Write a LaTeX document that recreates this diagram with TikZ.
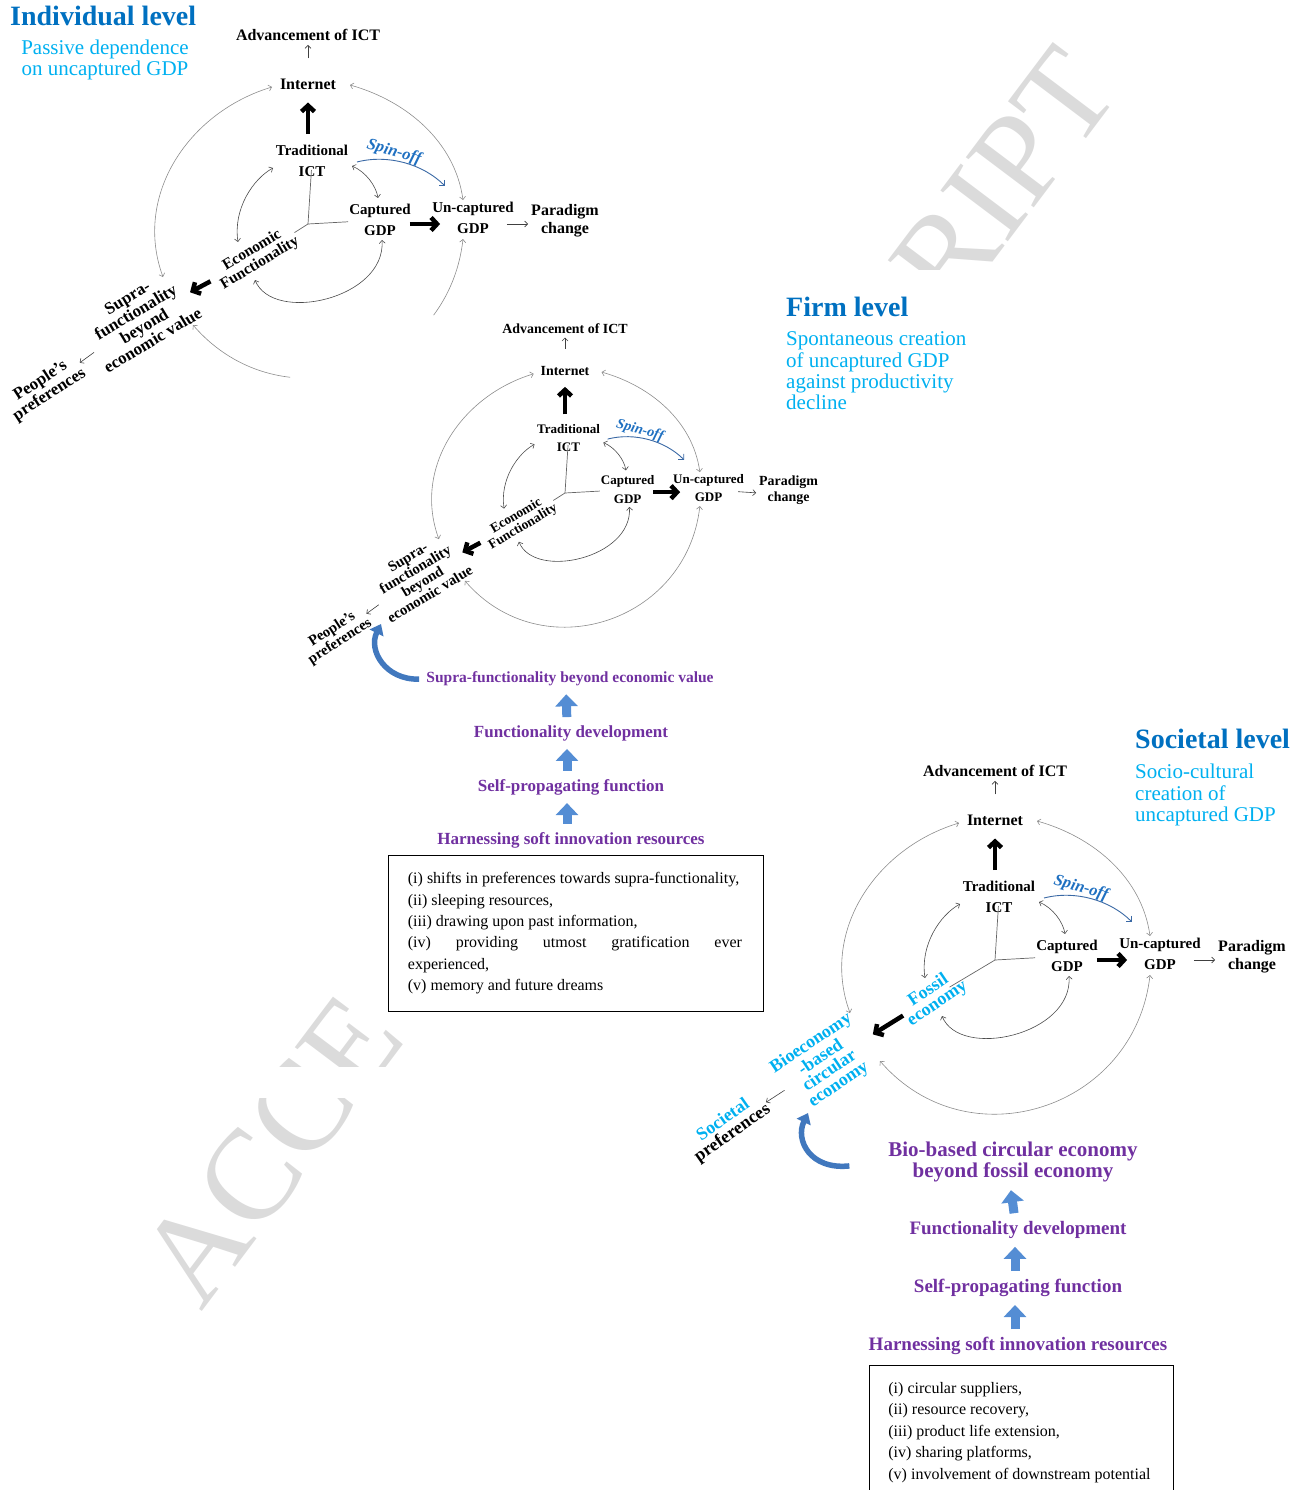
\documentclass[tikz,border=0pt]{standalone}
\usepackage{fontspec}
\setmainfont{Liberation Serif}
\usetikzlibrary{arrows.meta}
\definecolor{titleblue}{RGB}{0,112,192}
\definecolor{subcyan}{RGB}{0,176,240}
\definecolor{spinblue}{RGB}{31,112,193}
\definecolor{spinarrow}{RGB}{58,105,165}
\definecolor{stackpurple}{RGB}{112,48,160}
\definecolor{upblue}{RGB}{84,141,212}
\definecolor{curlblue}{RGB}{65,120,190}

\begin{document}
\begin{tikzpicture}[x=1pt, y=-1pt,
  lbl/.style={inner sep=1pt, align=center, font=\bfseries\fontsize{15}{21}\selectfont},
  lblbig/.style={inner sep=1pt, align=center, font=\bfseries\fontsize{16}{18}\selectfont},
  ecolbl/.style={inner sep=1pt, align=center, font=\bfseries\fontsize{15.5}{15}\selectfont},
  slant/.style={inner sep=1pt, align=center, font=\bfseries\fontsize{17}{16.5}\selectfont},
  cyanlbl/.style={inner sep=1pt, align=center, text=subcyan, font=\bfseries\fontsize{18}{16}\selectfont},
  spinlbl/.style={inner sep=1pt, text=spinblue, font=\bfseries\itshape\fontsize{16.5}{18}\selectfont, rotate=-16},
  thinarr/.style={draw=black!75, line width=0.6pt, -{Straight Barb[length=3pt,width=6pt]}},
  thickarr/.style={draw=black, line width=4.5pt, -{Straight Barb[length=6pt,width=13pt]}},
  outerarc/.style={draw=black!45, line width=0.6pt, {Straight Barb[length=3pt,width=6pt]}-{Straight Barb[length=3pt,width=6pt]}},
  innerarc/.style={draw=black!70, line width=0.6pt, {Straight Barb[length=3pt,width=6pt]}-{Straight Barb[length=3pt,width=6pt]}},
  spoke/.style={draw=black!60, line width=0.7pt},
  spinarr/.style={draw=spinarrow, line width=0.9pt, -{Straight Barb[length=4pt,width=8pt]}},
  title/.style={anchor=west, inner sep=0pt, text=titleblue, font=\bfseries\fontsize{28}{30}\selectfont},
  note/.style={inner sep=0pt, text=subcyan, font=\fontsize{21}{21.3}\selectfont},
  stack/.style={inner sep=1pt, align=center, text=stackpurple, font=\bfseries\fontsize{17}{21}\selectfont},
  uparr/.style={draw=upblue, line width=9pt, -{Triangle[length=12pt,width=22pt]}, shorten <=7pt, shorten >=7pt},
  curlarr/.style={draw=curlblue, line width=5.5pt, -{Triangle[length=10pt,width=15pt]}},
  listbox/.style={draw, fill=white, line width=0.8pt, align=flush left, anchor=north west, font=\fontsize{16}{21.4}\selectfont, inner ysep=17pt},
  wmark/.style={text=black!14, font=\fontsize{129}{129}\selectfont, rotate=53, inner sep=0pt}
]
\useasboundingbox (0,0) rectangle (1306,1490);

% watermark
\node[wmark, anchor=base west] (wmLeft) at (201,1313) {ACCE};
\node[wmark, anchor=base east] (wmRight) at (1122,91) {RIPT};
\fill[white] (225,1067) rectangle (440,1098);
\fill[white] (860,270) rectangle (1010,330);

% titles
\node[title] (iTitle) at (10,16) {Individual level};
\node[note, align=center] (iNote) at (105,60) {Passive dependence\\on uncaptured GDP};
\node[title] (fTitle) at (786,307) {Firm level};
\node[note, align=left, anchor=west] (fNote) at (786,371) {Spontaneous creation\\of uncaptured GDP\\against productivity\\decline};
\node[title] (sTitle) at (1135,739) {Societal level};
\node[note, align=left, anchor=west] (sNote) at (1135,795) {Socio-cultural\\creation of\\uncaptured GDP};

% individual level
\begin{scope}
\clip (0,0) -- (1306,0) -- (1306,315) -- (290,315) -- (290,440) -- (0,440) -- cycle;
\begin{scope}[shift={(308,224)}]
\node[lblbig] (iAdv) at (0,-189) {Advancement of ICT};
\node[lblbig] (iInt) at (0,-140) {Internet};
\node[lbl] (iTrad) at (4,-63) {Traditional\\ICT};
\node[spinlbl] (iSpin) at (86,-72) {Spin-off};
\node[lbl] (iCap) at (72,-4) {Captured\\GDP};
\node[lbl] (iUnc) at (165,-6) {Un-captured\\GDP};
\node[lblbig] (iPar) at (257,-3) {Paradigm\\change};
\node[ecolbl, rotate=31] (iEco) at (-52,33) {Economic\\Functionality};
\node[slant, rotate=31] (iSup) at (-168,95) {Supra-\\functionality\\beyond\\economic value};
\node[slant, rotate=33] (iPeo) at (-263,164) {People's\\preferences};
\coordinate (iHub) at (0,0);
\coordinate (iIntL) at (-36,-137);
\coordinate (iSupT) at (-145,53);
\coordinate (iIntR) at (42,-139);
\coordinate (iUncT) at (155,-24);
\coordinate (iSupB) at (-115,101);
\coordinate (iUncB) at (155,15);
\coordinate (iTradL) at (-35,-56);
\coordinate (iEcoT) at (-70,18);
\coordinate (iEcoB) at (-53,56);
\coordinate (iCapB) at (74,16);
\coordinate (iTradR) at (44,-58);
\coordinate (iCapT) at (70,-26);
\coordinate (iSpinA) at (49,-62);
\coordinate (iSpinB) at (137,-38);
\draw[spoke, shorten >=-8pt] (iHub) -- (iTrad);
\draw[spoke] (iHub) -- (iCap);
\draw[spoke] (iHub) -- (iEco);
\draw[thinarr, shorten <=19pt, shorten >=3pt] (iInt) -- (iAdv);
\draw[thickarr, shorten <=10pt, shorten >=12pt] (iInt.south |- iTrad.north) -- (iInt.south);
\draw[thickarr, shorten <=-2pt, shorten >=-9pt] ([yshift=-4pt]iCap.east) -- ([yshift=-6pt]iUnc.west);
\draw[thinarr, shorten <=-8pt, shorten >=2pt] ([yshift=-6pt]iUnc.east) -- ([yshift=-3pt]iPar.west);
\draw[thickarr, shorten <=6pt] (iEco) -- (iSup);
\draw[thinarr] (iSup) -- (iPeo);
\draw[spinarr] (iSpinA) .. controls (80,-70) and (115,-60) .. (iSpinB);
\draw[outerarc] (iSupT) .. controls (-175,-29) and (-119,-112) .. (iIntL);
\draw[outerarc] (iIntR) .. controls (99,-123) and (147,-82) .. (iUncT);
\draw[outerarc] (iSupB) .. controls (-27,203) and (140,149) .. (iUncB);
\draw[innerarc] (iTradL) .. controls (-55,-45) and (-75,-15) .. (iEcoT);
\draw[innerarc] (iEcoB) .. controls (-35,100) and (78,75) .. (iCapB);
\draw[innerarc] (iTradR) .. controls (58,-52) and (68,-38) .. (iCapT);
\end{scope}
\end{scope}

% firm level
\begin{scope}[shift={(565,493)}, scale=0.87, transform shape]
\node[lblbig] (fAdv) at (0,-189) {Advancement of ICT};
\node[lblbig] (fInt) at (0,-140) {Internet};
\node[lbl] (fTrad) at (4,-63) {Traditional\\ICT};
\node[spinlbl] (fSpin) at (86,-72) {Spin-off};
\node[lbl] (fCap) at (72,-4) {Captured\\GDP};
\node[lbl] (fUnc) at (165,-6) {Un-captured\\GDP};
\node[lblbig] (fPar) at (257,-3) {Paradigm\\change};
\node[ecolbl, rotate=31] (fEco) at (-52,33) {Economic\\Functionality};
\node[slant, rotate=31] (fSup) at (-168,95) {Supra-\\functionality\\beyond\\economic value};
\node[slant, rotate=33] (fPeo) at (-263,164) {People's\\preferences};
\coordinate (fHub) at (0,0);
\coordinate (fIntL) at (-36,-137);
\coordinate (fSupT) at (-145,53);
\coordinate (fIntR) at (42,-139);
\coordinate (fUncT) at (155,-24);
\coordinate (fSupB) at (-115,101);
\coordinate (fUncB) at (155,15);
\coordinate (fTradL) at (-35,-56);
\coordinate (fEcoT) at (-70,18);
\coordinate (fEcoB) at (-53,56);
\coordinate (fCapB) at (74,16);
\coordinate (fTradR) at (44,-58);
\coordinate (fCapT) at (70,-26);
\coordinate (fSpinA) at (49,-62);
\coordinate (fSpinB) at (137,-38);
\draw[spoke, shorten >=-8pt] (fHub) -- (fTrad);
\draw[spoke] (fHub) -- (fCap);
\draw[spoke] (fHub) -- (fEco);
\draw[thinarr, shorten <=17pt, shorten >=3pt] (fInt) -- (fAdv);
\draw[thickarr, shorten <=9pt, shorten >=10pt] (fInt.south |- fTrad.north) -- (fInt.south);
\draw[thickarr, shorten <=-2pt, shorten >=-8pt] ([yshift=-3pt]fCap.east) -- ([yshift=-5pt]fUnc.west);
\draw[thinarr, shorten <=-7pt, shorten >=2pt] ([yshift=-5pt]fUnc.east) -- ([yshift=-3pt]fPar.west);
\draw[thickarr, shorten <=5pt] (fEco) -- (fSup);
\draw[thinarr] (fSup) -- (fPeo);
\draw[spinarr] (fSpinA) .. controls (80,-70) and (115,-60) .. (fSpinB);
\draw[outerarc] (fSupT) .. controls (-175,-29) and (-119,-112) .. (fIntL);
\draw[outerarc] (fIntR) .. controls (99,-123) and (147,-82) .. (fUncT);
\draw[outerarc] (fSupB) .. controls (-27,203) and (140,149) .. (fUncB);
\draw[innerarc] (fTradL) .. controls (-55,-45) and (-75,-15) .. (fEcoT);
\draw[innerarc] (fEcoB) .. controls (-35,100) and (78,75) .. (fCapB);
\draw[innerarc] (fTradR) .. controls (58,-52) and (68,-38) .. (fCapT);
\end{scope}

% firm level stack
\node[stack, font=\bfseries\fontsize{15.5}{18}\selectfont] (fStack1) at (570,679) {Supra-functionality beyond economic value};
\node[stack] (fStack2) at (571,733) {Functionality development};
\node[stack] (fStack3) at (571,787) {Self-propagating function};
\node[stack] (fStack4) at (571,840) {Harnessing soft innovation resources};
\draw[uparr] ([xshift=-4pt]fStack4.north) -- ([xshift=-4pt]fStack3.south);
\draw[uparr] ([xshift=-4pt]fStack3.north) -- ([xshift=-4pt]fStack2.south);
\draw[uparr] ([xshift=-4pt]fStack2.north) -- ([xshift=-4pt]fStack1.south);
\coordinate (fCurlTip) at (381,624);
\draw[curlarr, shorten <=6pt] (fStack1.west) .. controls (385,680) and (368,650) .. (fCurlTip);
\node[listbox, text width=336pt, inner xsep=19.5pt] (fList) at (388,855) {(i) shifts in preferences towards supra-functionality,\\
(ii) sleeping resources,\\
(iii) drawing upon past information,\\
\leavevmode\hbox to 334pt{(iv)\hfill providing\hfill utmost\hfill gratification\hfill ever}\\
experienced,\\
(v) memory and future dreams};

% societal level
\begin{scope}[shift={(995,960)}]
\node[lblbig] (sAdv) at (0,-189) {Advancement of ICT};
\node[lblbig] (sInt) at (0,-140) {Internet};
\node[lbl] (sTrad) at (4,-63) {Traditional\\ICT};
\node[spinlbl] (sSpin) at (86,-72) {Spin-off};
\node[lbl] (sCap) at (72,-4) {Captured\\GDP};
\node[lbl] (sUnc) at (165,-6) {Un-captured\\GDP};
\node[lblbig] (sPar) at (257,-3) {Paradigm\\change};
\node[cyanlbl, rotate=34] (sFos) at (-62,37) {Fossil\\economy};
\node[cyanlbl, rotate=34] (sBio) at (-170,104) {Bioeconomy\\-based\\circular\\economy};
\node[slant, font=\bfseries\fontsize{18}{16}\selectfont, rotate=35] (sSoc) at (-267,167) {\textcolor{subcyan}{Societal}\\preferences};
\coordinate (sHub) at (0,0);
\coordinate (sIntL) at (-36,-137);
\coordinate (sBioT) at (-145,53);
\coordinate (sIntR) at (42,-139);
\coordinate (sUncT) at (155,-24);
\coordinate (sBioB) at (-115,101);
\coordinate (sUncB) at (155,15);
\coordinate (sTradL) at (-35,-56);
\coordinate (sFosT) at (-70,18);
\coordinate (sFosB) at (-53,56);
\coordinate (sCapB) at (74,16);
\coordinate (sTradR) at (44,-58);
\coordinate (sCapT) at (70,-26);
\coordinate (sSpinA) at (49,-62);
\coordinate (sSpinB) at (137,-38);
\draw[spoke, shorten >=-8pt] (sHub) -- (sTrad);
\draw[spoke] (sHub) -- (sCap);
\draw[spoke, shorten >=-16pt] (sHub) -- (sFos);
\draw[thinarr, shorten <=19pt, shorten >=3pt] (sInt) -- (sAdv);
\draw[thickarr, shorten <=10pt, shorten >=12pt] (sInt.south |- sTrad.north) -- (sInt.south);
\draw[thickarr, shorten <=-2pt, shorten >=-9pt] ([yshift=-4pt]sCap.east) -- ([yshift=-6pt]sUnc.west);
\draw[thinarr, shorten <=-8pt, shorten >=2pt] ([yshift=-6pt]sUnc.east) -- ([yshift=-3pt]sPar.west);
\draw[thickarr, shorten >=8pt] (sFos) -- (sBio);
\draw[thinarr] (sBio) -- (sSoc);
\draw[spinarr] (sSpinA) .. controls (80,-70) and (115,-60) .. (sSpinB);
\draw[outerarc] (sBioT) .. controls (-175,-29) and (-119,-112) .. (sIntL);
\draw[outerarc] (sIntR) .. controls (99,-123) and (147,-82) .. (sUncT);
\draw[outerarc] (sBioB) .. controls (-27,203) and (140,149) .. (sUncB);
\draw[innerarc] (sTradL) .. controls (-55,-45) and (-75,-15) .. (sFosT);
\draw[innerarc] (sFosB) .. controls (-35,100) and (78,75) .. (sCapB);
\draw[innerarc] (sTradR) .. controls (58,-52) and (68,-38) .. (sCapT);
\end{scope}

% societal level stack
\node[stack, font=\bfseries\fontsize{21}{21}\selectfont] (sStack1) at (1013,1162) {Bio-based circular economy\\beyond fossil economy};
\node[stack, font=\bfseries\fontsize{19}{21}\selectfont] (sStack2) at (1018,1230) {Functionality development};
\node[stack, font=\bfseries\fontsize{19}{21}\selectfont] (sStack3) at (1018,1288) {Self-propagating function};
\node[stack, font=\bfseries\fontsize{19}{21}\selectfont] (sStack4) at (1018,1346) {Harnessing soft innovation resources};
\draw[uparr] ([xshift=-3pt]sStack4.north) -- ([xshift=-3pt]sStack3.south);
\draw[uparr] ([xshift=-3pt]sStack3.north) -- ([xshift=-3pt]sStack2.south);
\draw[uparr] ([xshift=-3pt]sStack2.north) -- ([xshift=-3pt]sStack1.south);
\coordinate (sCurlTip) at (808,1113);
\draw[curlarr, shorten <=38pt] (sStack1.west) .. controls (810,1170) and (795,1140) .. (sCurlTip);
\node[listbox, text width=266pt, inner xsep=19pt] (sList) at (869,1365) {(i) circular suppliers,\\
(ii) resource recovery,\\
(iii) product life extension,\\
(iv) sharing platforms,\\
(v) involvement of downstream potential};
\end{tikzpicture}
\end{document}
